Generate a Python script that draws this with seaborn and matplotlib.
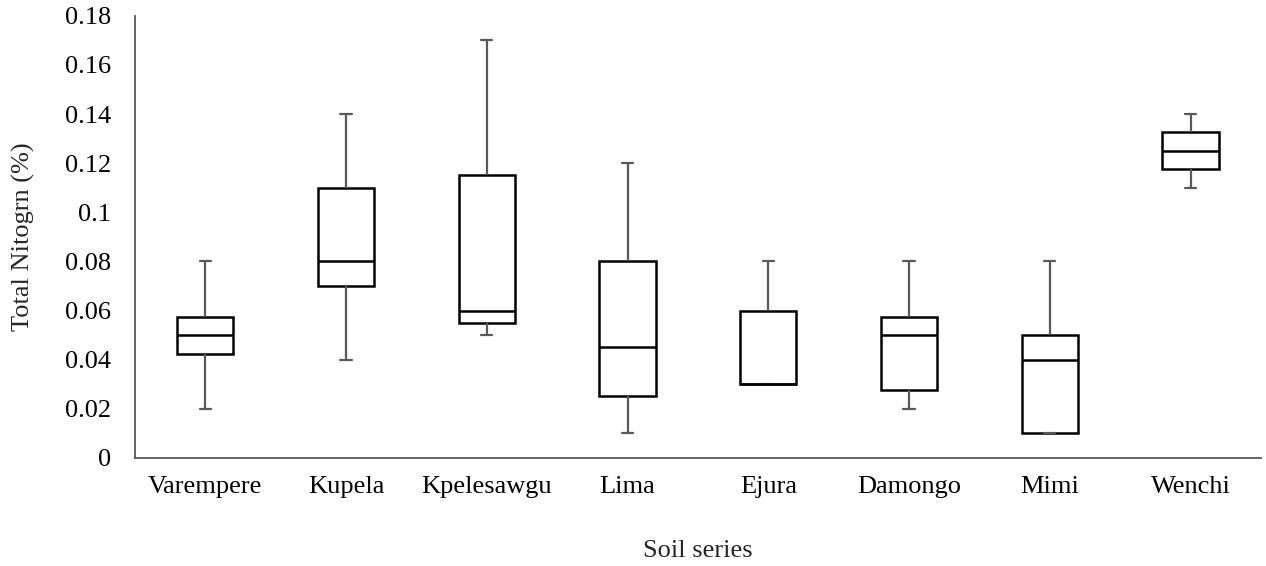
import matplotlib
matplotlib.use("Agg")
import matplotlib.pyplot as plt
import seaborn as sns
import pandas as pd
import numpy as np

# Five-number summaries (min, Q1, median, Q3, max)
categories = ["Varempere", "Kupela", "Kpelesawgu", "Lima", "Ejura", "Damongo", "Mimi", "Wenchi"]
mins    = [0.02, 0.04, 0.05, 0.01, 0.03, 0.02, 0.01, 0.11]
q1s     = [0.0425, 0.07, 0.055, 0.025, 0.03, 0.0275, 0.01, 0.1175]
medians = [0.05, 0.08, 0.06, 0.045, 0.03, 0.05, 0.04, 0.125]
q3s     = [0.0575, 0.11, 0.115, 0.08, 0.06, 0.0575, 0.05, 0.1325]
maxs    = [0.08, 0.14, 0.17, 0.12, 0.08, 0.08, 0.08, 0.14]
y_ticks = [0, 0.02, 0.04, 0.06, 0.08, 0.1, 0.12, 0.14, 0.16, 0.18]
y_tick_labels = ["0", "0.02", "0.04", "0.06", "0.08", "0.1", "0.12", "0.14", "0.16", "0.18"]

rows = []
for c, a, b, m, d, e in zip(categories, mins, q1s, medians, q3s, maxs):
    for v in (a, b, m, d, e):
        rows.append({"Soil series": c, "N": v})
df = pd.DataFrame(rows)

sns.set_theme(style="white")
plt.rcParams["font.family"] = ["Liberation Serif", "DejaVu Serif"]

fig, ax = plt.subplots(figsize=(12.66, 5.66), dpi=100)
fig.subplots_adjust(left=0.1066, right=0.996, top=0.972, bottom=0.191)

gray = "#595959"
fs = 19
sns.boxplot(data=df, x="Soil series", y="N", order=categories, ax=ax,
            whis=(0, 100), width=0.4, color="white", linecolor="black",
            linewidth=1.8, showfliers=False,
            whiskerprops=dict(color=gray, linewidth=1.6),
            capprops=dict(color=gray, linewidth=1.6),
            medianprops=dict(color="black", linewidth=1.8),
            capwidths=0.08)

ax.set_xlim(-0.5, len(categories) - 0.5)
ax.set_ylim(0, 0.18)
ax.set_yticks(y_ticks)
ax.set_yticklabels(y_tick_labels)
ax.tick_params(axis="both", labelsize=fs, length=0, colors="black")
ax.tick_params(axis="y", pad=17)
ax.tick_params(axis="x", pad=13)
ax.set_ylabel("Total Nitogrn (%)", fontsize=fs, labelpad=22)
ax.set_xlabel("Soil series", fontsize=fs, labelpad=30)

for s in ["top", "right"]:
    ax.spines[s].set_visible(False)
for s in ["left", "bottom"]:
    ax.spines[s].set_color(gray)
    ax.spines[s].set_linewidth(1.3)

fig.savefig("out.png", dpi=100, facecolor="white")
